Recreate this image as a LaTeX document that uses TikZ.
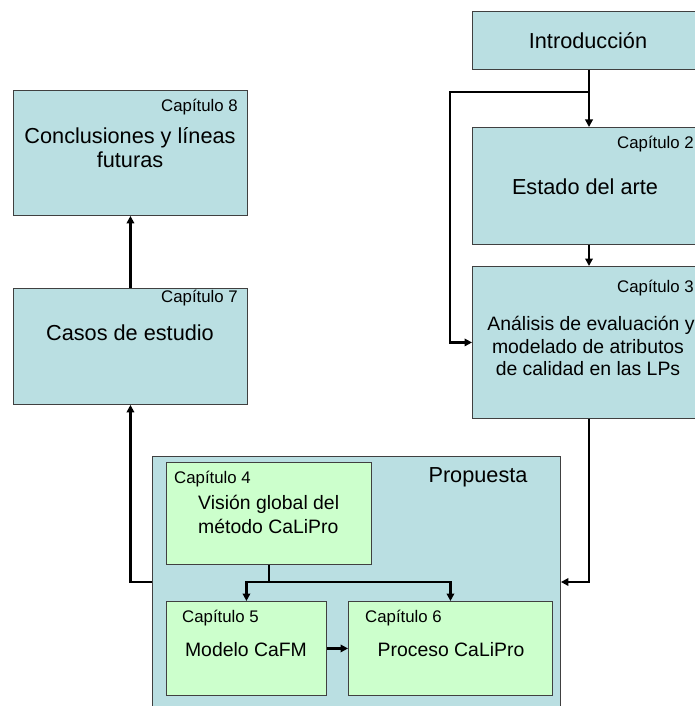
\documentclass[tikz,border=0pt]{standalone}
\usepackage{fontspec}
\setmainfont{Liberation Sans}
\usetikzlibrary{arrows.meta}
\definecolor{boxblue}{HTML}{BADFE2}
\definecolor{boxgreen}{HTML}{CCFFCC}
\definecolor{boxline}{HTML}{404040}
\begin{document}
\begin{tikzpicture}[x=1pt,y=-1pt,
  bluebox/.style={draw=boxline, fill=boxblue, line width=0.9pt, anchor=north west, inner sep=0pt},
  greenbox/.style={draw=boxline, fill=boxgreen, line width=0.9pt, anchor=north west, inner sep=0pt},
  big/.style={font=\fontsize{21.7}{25}\selectfont, anchor=base, inner sep=0pt},
  mid/.style={font=\fontsize{19.4}{22}\selectfont, anchor=base, inner sep=0pt},
  chap/.style={font=\fontsize{16.8}{20}\selectfont, anchor=base west, inner sep=0pt},
  conn/.style={line width=2.4pt, -{Triangle[length=7.5pt,width=7.5pt]}},
  plain/.style={line width=2.4pt}
]
\useasboundingbox (0,0) rectangle (695,706);
\clip (0,0) rectangle (695,706);

% boxes
\node[bluebox, minimum width=240pt, minimum height=58pt] (intro) at (472,11) {};
\node[bluebox, minimum width=240pt, minimum height=117pt] (cap2) at (472,127) {};
\node[bluebox, minimum width=240pt, minimum height=152pt] (cap3) at (472,266) {};
\node[bluebox, minimum width=234pt, minimum height=125pt] (cap8) at (13,90) {};
\node[bluebox, minimum width=234pt, minimum height=116pt] (cap7) at (13,288) {};
\node[bluebox, minimum width=408pt, minimum height=270pt] (prop) at (152,456) {};
\node[greenbox, minimum width=205pt, minimum height=102pt] (cap4) at (166,462) {};
\node[greenbox, minimum width=160pt, minimum height=94pt] (cap5) at (166,601) {};
\node[greenbox, minimum width=204pt, minimum height=94pt] (cap6) at (348,601) {};

% texts
\node[big] (tintro) at (588,49) {Introducción};
\node[chap] (l2) at (617,148) {Capítulo 2};
\node[big] (t2) at (585,194) {Estado del arte};
\node[chap] (l3) at (617,292) {Capítulo 3};
\node[mid] (t3a) at (591,330) {Análisis de evaluación y};
\node[mid] (t3b) at (588,353) {modelado de atributos};
\node[mid] (t3c) at (588,375) {de calidad en las LPs};
\node[chap] (l8) at (161,112) {Capítulo 8};
\node[big] (t8a) at (130,143) {Conclusiones y líneas};
\node[big] (t8b) at (130,167) {futuras};
\node[chap] (l7) at (161,302) {Capítulo 7};
\node[big] (t7) at (130,340) {Casos de estudio};
\node[big] (tp) at (478,482) {Propuesta};
\node[chap] (l4) at (174,483) {Capítulo 4};
\node[mid, anchor=base west] (t4a) at (198,509) {Visión global del};
\node[mid, anchor=base west] (t4b) at (198,533) {método CaLiPro};
\node[chap] (l5) at (182,622) {Capítulo 5};
\node[mid] (t5) at (246,656) {Modelo CaFM};
\node[chap] (l6) at (365,622) {Capítulo 6};
\node[mid] (t6) at (451,656) {Proceso CaLiPro};

% connectors
\coordinate (sp) at (589,92);
\coordinate (lb) at (450,92);
\coordinate (jy) at (268,582);
\draw[conn] (intro.south -| sp) -- (cap2.north -| sp);
\draw[conn] (sp) -- (lb) |- (cap3.west);
\draw[conn] (cap2.south -| sp) -- (cap3.north -| sp);
\draw[conn] (cap7.north) -- (cap8.south);
\draw[conn] (prop.west |- jy) -| (cap7.south);
\draw[conn] (cap3.south -| sp) |- (prop.east |- jy);
\draw[plain] (cap4.south) -- (cap4.south |- jy);
\draw[conn] (cap4.south |- jy) -| (cap5.north);
\draw[conn] (cap4.south |- jy) -| (cap6.north);
\draw[conn] (cap5.east) -- (cap6.west);
\end{tikzpicture}
\end{document}
